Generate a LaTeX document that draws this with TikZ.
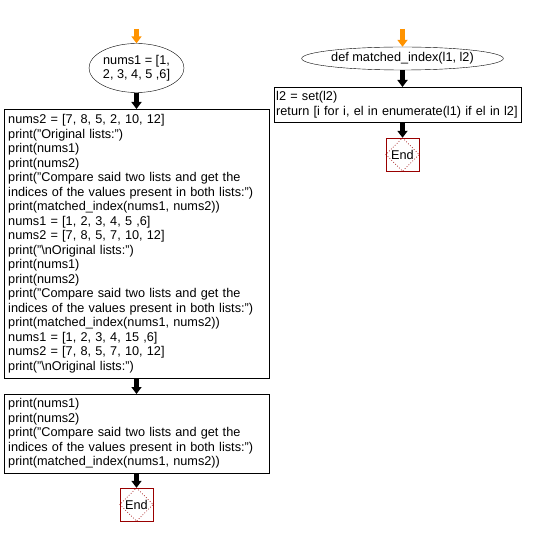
\documentclass[tikz,border=0pt]{standalone}
\usepackage{fontspec}
\setmainfont{Liberation Sans}
\usetikzlibrary{positioning, arrows.meta, calc, shapes.geometric}

\begin{document}
\begin{tikzpicture}[
  x=1pt, y=-1pt,
  font=\fontsize{12.7}{14.5}\selectfont,
  flow/.style  = {-{Triangle[length=7pt, width=10pt]}, line width=4.5pt, black},
  start/.style = {flow, orange!85!yellow},
  oval/.style  = {draw, ellipse, inner sep=0pt, align=center},
  code/.style  = {draw, anchor=north west, align=left, inner xsep=4pt, inner ysep=0pt},
  endbox/.style = {draw=red!60!black, minimum size=33pt, inner sep=0pt},
  endtip/.style = {draw=red!60!black, dotted, line width=0.7pt},
]
\useasboundingbox (0,0) rectangle (532,537);
% main program
\coordinate (s1) at (136.5,29);
\node[oval, minimum width=95pt, minimum height=49pt] (nums) at (136.5,68) {nums1 = [1,\\2, 3, 4, 5 ,6]};
\node[code, minimum width=265pt, minimum height=269pt, text width=257pt] (body1) at (4,109)
  {nums2 = [7, 8, 5, 2, 10, 12]\\
   print("Original lists:")\\
   print(nums1)\\
   print(nums2)\\
   print("Compare said two lists and get the\\
   indices of the values present in both lists:")\\
   print(matched\_index(nums1, nums2))\\
   nums1 = [1, 2, 3, 4, 5 ,6]\\
   nums2 = [7, 8, 5, 7, 10, 12]\\
   print("\textbackslash nOriginal lists:")\\
   print(nums1)\\
   print(nums2)\\
   print("Compare said two lists and get the\\
   indices of the values present in both lists:")\\
   print(matched\_index(nums1, nums2))\\
   nums1 = [1, 2, 3, 4, 15 ,6]\\
   nums2 = [7, 8, 5, 7, 10, 12]\\
   print("\textbackslash nOriginal lists:")};
\node[code, minimum width=265pt, minimum height=79pt, text width=257pt] (body2) at (4,394)
  {print(nums1)\\
   print(nums2)\\
   print("Compare said two lists and get the\\
   indices of the values present in both lists:")\\
   print(matched\_index(nums1, nums2))};
\node[endbox] (end1) at (136.5,504.5) {End};
\draw[endtip] (end1.north) -- (end1.east) -- (end1.south) -- (end1.west) -- cycle;
\draw[start] (s1) -- (nums.north);
\draw[flow] (nums.south) -- (nums.south |- body1.north);
\draw[flow] (body1.south -| nums.south) -- (nums.south |- body2.north);
\draw[flow] (body2.south -| nums.south) -- (end1.north);
% function definition
\coordinate (s2) at (402.5,29);
\node[oval, minimum width=161pt, minimum height=23pt] (def) at (402.5,58.5) {def matched\_index(l1, l2)};
\node[code, minimum width=247pt, minimum height=35pt, text width=243pt, inner xsep=2pt] (body3) at (274,87)
  {l2 = set(l2)\\
   return [i for i, el in enumerate(l1) if el in l2]};
\node[endbox] (end2) at (402.5,154.5) {End};
\draw[endtip] (end2.north) -- (end2.east) -- (end2.south) -- (end2.west) -- cycle;
\draw[start] (s2) -- (def.north);
\draw[flow] (def.south) -- (def.south |- body3.north);
\draw[flow] (body3.south -| def.south) -- (end2.north);
\end{tikzpicture}
\end{document}
